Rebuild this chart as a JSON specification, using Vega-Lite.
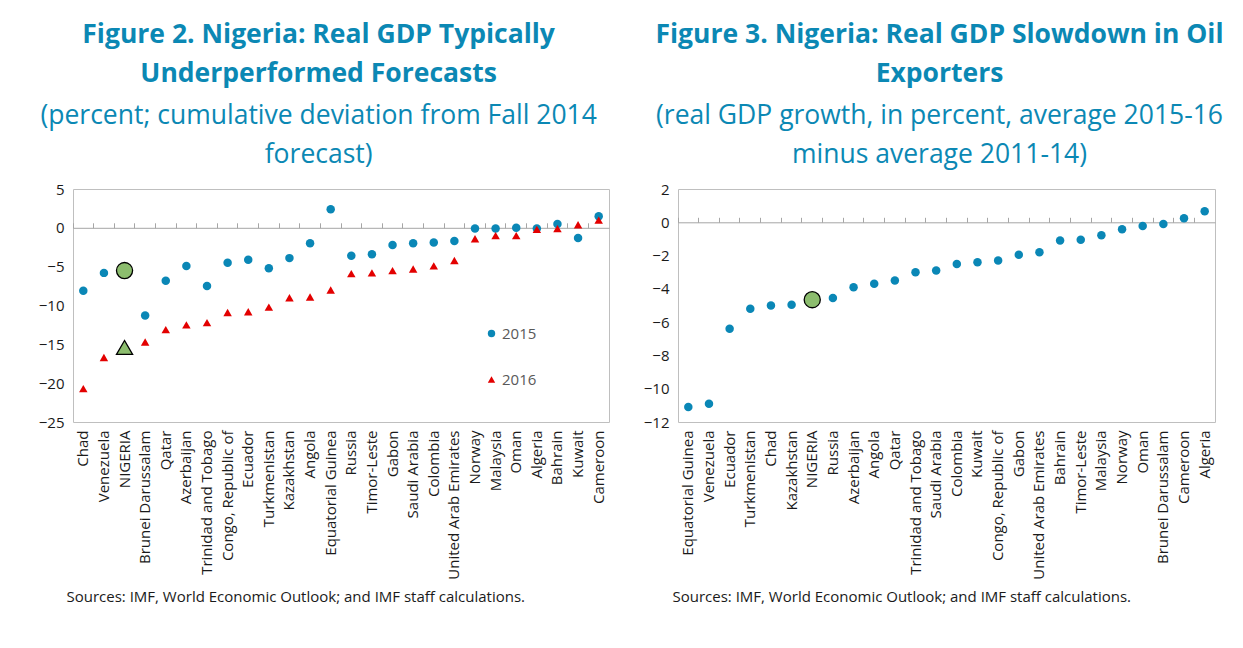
{
  "$schema": "https://vega.github.io/schema/vega-lite/v6.json",
  "background": "white",
  "padding": {"left": 37, "top": 21, "right": 5, "bottom": 5},
  "spacing": 32,
  "config": {
    "font": "Open Sans",
    "view": {"stroke": "#bfbfbf", "strokeWidth": 1},
    "axis": {"labelFont": "Open Sans", "labelFontSize": 15, "labelColor": "#1a1a1a", "titleFont": "Open Sans", "grid": false},
    "title": {"font": "Open Sans", "fontSize": 26.5, "fontWeight": "bold", "color": "#0b88b4", "subtitleFont": "Open Sans", "subtitleFontSize": 26.5, "subtitleFontWeight": "normal", "subtitleColor": "#0b88b4", "lineHeight": 39, "subtitleLineHeight": 39, "subtitlePadding": 15, "offset": 14, "anchor": "middle"},
    "legend": {"labelFont": "Open Sans", "labelFontSize": 15, "labelColor": "#595959"}
  },
  "datasets": {
    "fig2": [
      {"country": "Chad", "series": "2015", "value": -8.1}, {"country": "Chad", "series": "2016", "value": -20.7},
      {"country": "Venezuela", "series": "2015", "value": -5.8}, {"country": "Venezuela", "series": "2016", "value": -16.7},
      {"country": "NIGERIA", "series": "2015", "value": -5.5}, {"country": "NIGERIA", "series": "2016", "value": -15.4},
      {"country": "Brunei Darussalam", "series": "2015", "value": -11.3}, {"country": "Brunei Darussalam", "series": "2016", "value": -14.7},
      {"country": "Qatar", "series": "2015", "value": -6.8}, {"country": "Qatar", "series": "2016", "value": -13.1},
      {"country": "Azerbaijan", "series": "2015", "value": -4.9}, {"country": "Azerbaijan", "series": "2016", "value": -12.5},
      {"country": "Trinidad and Tobago", "series": "2015", "value": -7.5}, {"country": "Trinidad and Tobago", "series": "2016", "value": -12.2},
      {"country": "Congo, Republic of", "series": "2015", "value": -4.5}, {"country": "Congo, Republic of", "series": "2016", "value": -10.9},
      {"country": "Ecuador", "series": "2015", "value": -4.1}, {"country": "Ecuador", "series": "2016", "value": -10.8},
      {"country": "Turkmenistan", "series": "2015", "value": -5.2}, {"country": "Turkmenistan", "series": "2016", "value": -10.2},
      {"country": "Kazakhstan", "series": "2015", "value": -3.9}, {"country": "Kazakhstan", "series": "2016", "value": -9.0},
      {"country": "Angola", "series": "2015", "value": -2.0}, {"country": "Angola", "series": "2016", "value": -8.9},
      {"country": "Equatorial Guinea", "series": "2015", "value": 2.4}, {"country": "Equatorial Guinea", "series": "2016", "value": -8.0},
      {"country": "Russia", "series": "2015", "value": -3.6}, {"country": "Russia", "series": "2016", "value": -5.9},
      {"country": "Timor-Leste", "series": "2015", "value": -3.4}, {"country": "Timor-Leste", "series": "2016", "value": -5.8},
      {"country": "Gabon", "series": "2015", "value": -2.2}, {"country": "Gabon", "series": "2016", "value": -5.5},
      {"country": "Saudi Arabia", "series": "2015", "value": -2.0}, {"country": "Saudi Arabia", "series": "2016", "value": -5.3},
      {"country": "Colombia", "series": "2015", "value": -1.9}, {"country": "Colombia", "series": "2016", "value": -4.9},
      {"country": "United Arab Emirates", "series": "2015", "value": -1.7}, {"country": "United Arab Emirates", "series": "2016", "value": -4.2},
      {"country": "Norway", "series": "2015", "value": -0.1}, {"country": "Norway", "series": "2016", "value": -1.4},
      {"country": "Malaysia", "series": "2015", "value": -0.1}, {"country": "Malaysia", "series": "2016", "value": -1.0},
      {"country": "Oman", "series": "2015", "value": 0.0}, {"country": "Oman", "series": "2016", "value": -1.0},
      {"country": "Algeria", "series": "2015", "value": -0.1}, {"country": "Algeria", "series": "2016", "value": -0.2},
      {"country": "Bahrain", "series": "2015", "value": 0.5}, {"country": "Bahrain", "series": "2016", "value": -0.1},
      {"country": "Kuwait", "series": "2015", "value": -1.3}, {"country": "Kuwait", "series": "2016", "value": 0.4},
      {"country": "Cameroon", "series": "2015", "value": 1.5}, {"country": "Cameroon", "series": "2016", "value": 1.0}
    ],
    "fig3": [
      {"country": "Equatorial Guinea", "value": -11.1},
      {"country": "Venezuela", "value": -10.9},
      {"country": "Ecuador", "value": -6.4},
      {"country": "Turkmenistan", "value": -5.2},
      {"country": "Chad", "value": -5.0},
      {"country": "Kazakhstan", "value": -4.95},
      {"country": "NIGERIA", "value": -4.65},
      {"country": "Russia", "value": -4.55},
      {"country": "Azerbaijan", "value": -3.9},
      {"country": "Angola", "value": -3.7},
      {"country": "Qatar", "value": -3.5},
      {"country": "Trinidad and Tobago", "value": -3.0},
      {"country": "Saudi Arabia", "value": -2.9},
      {"country": "Colombia", "value": -2.5},
      {"country": "Kuwait", "value": -2.4},
      {"country": "Congo, Republic of", "value": -2.3},
      {"country": "Gabon", "value": -1.95},
      {"country": "United Arab Emirates", "value": -1.8},
      {"country": "Bahrain", "value": -1.1},
      {"country": "Timor-Leste", "value": -1.05},
      {"country": "Malaysia", "value": -0.78},
      {"country": "Norway", "value": -0.42},
      {"country": "Oman", "value": -0.22},
      {"country": "Brunei Darussalam", "value": -0.1},
      {"country": "Cameroon", "value": 0.24},
      {"country": "Algeria", "value": 0.66}
    ]
  },
  "hconcat": [
    {
      "width": 536,
      "height": 233,
      "data": {"name": "fig2"},
      "title": {
        "text": ["Figure 2. Nigeria: Real GDP Typically", "Underperformed Forecasts"],
        "subtitle": ["(percent; cumulative deviation from Fall 2014", "forecast)"],
        "frame": "bounds",
        "dx": -5
      },
      "layer": [
        {
          "mark": {"type": "point", "opacity": 0},
          "encoding": {
            "x": {
              "field": "country", "type": "nominal", "sort": null,
              "scale": {"type": "band", "paddingInner": 0, "paddingOuter": 0},
              "axis": {"orient": "top", "offset": -38.8, "labels": false, "title": null, "domain": true, "domainColor": "#a6a6a6", "ticks": true, "tickColor": "#a6a6a6", "tickSize": 5, "bandPosition": 0}
            }
          }
        },
        {
          "mark": {"type": "point", "filled": true, "opacity": 1, "stroke": "black", "strokeWidth": 1.3},
          "encoding": {
            "x": {
              "field": "country", "type": "nominal", "sort": null,
              "scale": {"type": "band", "paddingInner": 0, "paddingOuter": 0},
              "axis": {"orient": "bottom", "labelAngle": -90, "labelPadding": 8, "ticks": false, "domain": false,
                "title": "Sources: IMF, World Economic Outlook; and IMF staff calculations.",
                "titleFontSize": 15, "titleFontWeight": "normal", "titleColor": "#1a1a1a", "titlePadding": 10,
                "titleAnchor": "start", "titleAlign": "left", "titleX": -7}
            },
            "y": {
              "field": "value", "type": "quantitative",
              "scale": {"domain": [-25, 5], "nice": false, "zero": false},
              "axis": {"values": [-25, -20, -15, -10, -5, 0, 5], "domain": false, "ticks": false, "labelPadding": 9, "title": null}
            },
            "color": {
              "condition": {"test": "datum.country === 'NIGERIA'", "value": "#8cbd6e"},
              "field": "series", "type": "nominal",
              "scale": {"domain": ["2015", "2016"], "range": ["#0a87b6", "#e30000"]},
              "legend": {"title": null, "orient": "none", "legendX": 411, "legendY": 137, "rowPadding": 30, "symbolSize": 55, "symbolStrokeWidth": 0, "labelOffset": 3}
            },
            "shape": {
              "field": "series", "type": "nominal",
              "scale": {"domain": ["2015", "2016"], "range": ["circle", "triangle-up"]},
              "legend": {"title": null, "orient": "none", "legendX": 411, "legendY": 137, "rowPadding": 30, "symbolSize": 55, "symbolStrokeWidth": 0, "labelOffset": 3}
            },
            "size": {"condition": {"test": "datum.country === 'NIGERIA'", "value": 260}, "value": 72},
            "strokeOpacity": {"condition": {"test": "datum.country === 'NIGERIA'", "value": 1}, "value": 0}
          }
        }
      ],
      "resolve": {"axis": {"x": "independent"}}
    },
    {
      "width": 537,
      "height": 233,
      "data": {"name": "fig3"},
      "title": {
        "text": ["Figure 3. Nigeria: Real GDP Slowdown in Oil", "Exporters"],
        "subtitle": ["(real GDP growth, in percent, average 2015-16", "minus average 2011-14)"],
        "frame": "group",
        "dx": -7
      },
      "layer": [
        {
          "mark": {"type": "point", "opacity": 0},
          "encoding": {
            "x": {
              "field": "country", "type": "nominal", "sort": null,
              "scale": {"type": "band", "paddingInner": 0, "paddingOuter": 0},
              "axis": {"orient": "top", "offset": -33.3, "labels": false, "title": null, "domain": true, "domainColor": "#a6a6a6", "ticks": true, "tickColor": "#a6a6a6", "tickSize": 5, "bandPosition": 0}
            }
          }
        },
        {
          "mark": {"type": "point", "filled": true, "opacity": 1, "stroke": "black", "strokeWidth": 1.3, "shape": "circle"},
          "encoding": {
            "x": {
              "field": "country", "type": "nominal", "sort": null,
              "scale": {"type": "band", "paddingInner": 0, "paddingOuter": 0},
              "axis": {"orient": "bottom", "labelAngle": -90, "labelPadding": 8, "ticks": false, "domain": false,
                "title": "Sources: IMF, World Economic Outlook; and IMF staff calculations.",
                "titleFontSize": 15, "titleFontWeight": "normal", "titleColor": "#1a1a1a", "titlePadding": 10,
                "titleAnchor": "start", "titleAlign": "left", "titleX": -6}
            },
            "y": {
              "field": "value", "type": "quantitative",
              "scale": {"domain": [-12, 2], "nice": false, "zero": false},
              "axis": {"values": [-12, -10, -8, -6, -4, -2, 0, 2], "domain": false, "ticks": false, "labelPadding": 9, "title": null}
            },
            "color": {"condition": {"test": "datum.country === 'NIGERIA'", "value": "#8cbd6e"}, "value": "#0a87b6"},
            "size": {"condition": {"test": "datum.country === 'NIGERIA'", "value": 260}, "value": 72},
            "strokeOpacity": {"condition": {"test": "datum.country === 'NIGERIA'", "value": 1}, "value": 0}
          }
        }
      ],
      "resolve": {"axis": {"x": "independent"}}
    }
  ]
}
